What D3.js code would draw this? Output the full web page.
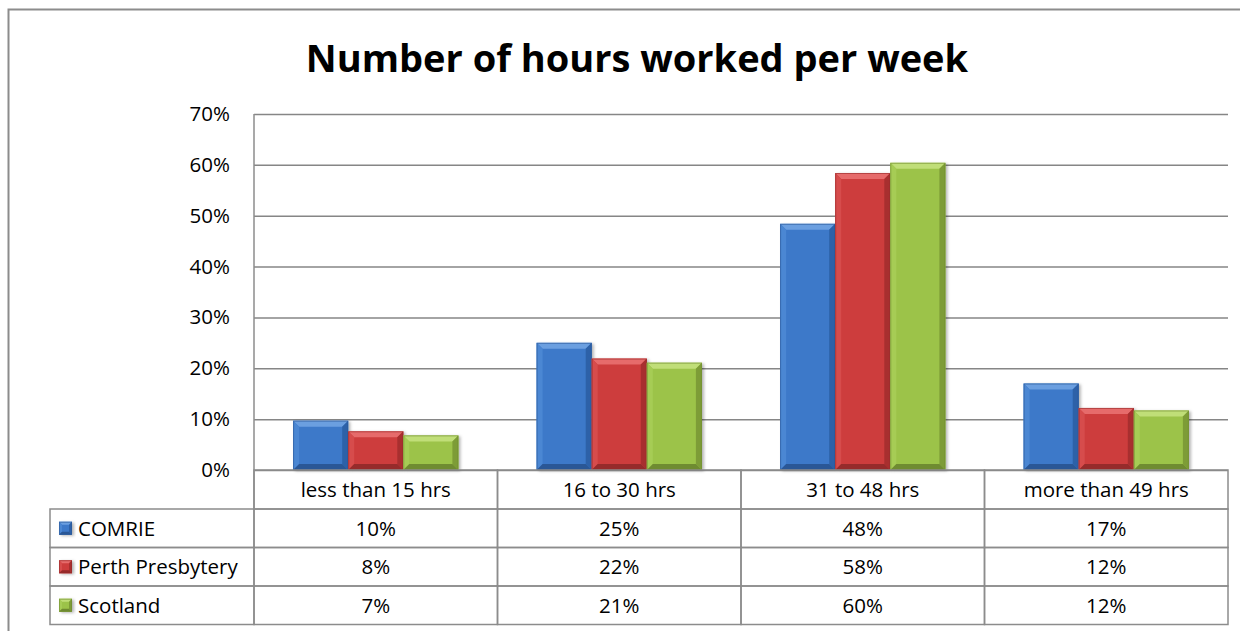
<!DOCTYPE html>
<html>
<head>
<meta charset="utf-8">
<script src="https://cdn.jsdelivr.net/npm/d3@7"></script>
<style>
  body { margin: 0; background: #fff; }
  svg { display: block; font-family: "Open Sans", Lato, sans-serif; }
</style>
</head>
<body>
<div id="chart"></div>
<script>
// data
const categories = ["less than 15 hrs", "16 to 30 hrs", "31 to 48 hrs", "more than 49 hrs"];
const seriesNames = ["COMRIE", "Perth Presbytery", "Scotland"];
const comrie = [0.097, 0.250, 0.484, 0.170];
const perth = [0.076, 0.219, 0.584, 0.122];
const scotland = [0.068, 0.211, 0.604, 0.117];
const yTicks = [0, 0.1, 0.2, 0.3, 0.4, 0.5, 0.6, 0.7];

const seriesValues = [comrie, perth, scotland];
// face, top bevel, left bevel, right bevel, bottom bevel
const palette = [
  ["#3d79c9", "#6b9fe0", "#4b87d3", "#2d61a8", "#2a5796"],
  ["#cd3c3c", "#e66b6b", "#d64c4c", "#a82f2f", "#962b2b"],
  ["#9cc349", "#c0de78", "#a6cc55", "#7d9c37", "#6f8b31"]
];

const width = 1240, height = 631;
const plot = { left: 254, right: 1228, top: 114, bottom: 470 };
const rowH = 38.5, headH = 39, tableLeft = 50;
const fs = 20.5;

const svg = d3.select("#chart").append("svg")
  .attr("width", width)
  .attr("height", height);

// outer chart frame (runs past the window edge)
svg.append("rect")
  .attr("x", 8.5).attr("y", 9.5)
  .attr("width", 1260).attr("height", 700)
  .attr("fill", "#fff")
  .attr("stroke", "#8c8c8c")
  .attr("stroke-width", 2);

svg.append("text")
  .attr("x", 637).attr("y", 72)
  .attr("text-anchor", "middle")
  .attr("font-size", 38)
  .attr("font-weight", "bold")
  .attr("fill", "#000")
  .text("Number of hours worked per week");

const y = d3.scaleLinear().domain([0, 0.7]).range([plot.bottom, plot.top]);
const x0 = d3.scaleBand().domain(categories).range([plot.left, plot.right]);
const x1 = d3.scaleBand().domain(seriesNames).range([0, x0.bandwidth()])
  .paddingInner(0).paddingOuter(0.71);

// gridlines + tick labels
const yAxis = svg.append("g")
  .attr("transform", `translate(${plot.left},0)`)
  .call(d3.axisLeft(y).tickValues(yTicks).tickFormat(d3.format(".0%"))
    .tickSize(-(plot.right - plot.left)).tickPadding(24));
yAxis.select(".domain").remove();
yAxis.selectAll("line").attr("stroke", "#868686").attr("stroke-width", 1.5);
yAxis.selectAll("text").attr("font-size", fs).attr("fill", "#000")
  .attr("font-family", "'Open Sans', sans-serif");

// defs: soft shadow for bars
const defs = svg.append("defs");
const f = defs.append("filter").attr("id", "shadow")
  .attr("x", "-20%").attr("y", "-20%").attr("width", "150%").attr("height", "150%");
f.append("feDropShadow").attr("dx", 2).attr("dy", 1).attr("stdDeviation", 1.5)
  .attr("flood-color", "#000").attr("flood-opacity", 0.3);

function bevelBar(g, x, yy, w, h, cols, b) {
  b = Math.min(b, h / 2, w / 2);
  const grp = g.append("g");
  grp.append("rect").attr("x", x).attr("y", yy).attr("width", w).attr("height", h)
    .attr("fill", cols[0]).attr("filter", "url(#shadow)");
  const pts = [
    [[x, yy], [x + w, yy], [x + w - b, yy + b], [x + b, yy + b]],
    [[x, yy], [x + b, yy + b], [x + b, yy + h - b], [x, yy + h]],
    [[x + w, yy], [x + w - b, yy + b], [x + w - b, yy + h - b], [x + w, yy + h]],
    [[x, yy + h], [x + b, yy + h - b], [x + w - b, yy + h - b], [x + w, yy + h]]
  ];
  pts.forEach((p, i) => {
    grp.append("polygon").attr("points", p.map(d => d.join(",")).join(" "))
      .attr("fill", cols[i + 1]);
  });
  grp.append("rect").attr("x", x + 0.5).attr("y", yy + 0.5)
    .attr("width", w - 1).attr("height", h - 1)
    .attr("fill", "none").attr("stroke", cols[4]).attr("stroke-opacity", 0.6);
}

// bars
const barsG = svg.append("g");
categories.forEach((c, ci) => {
  seriesNames.forEach((s, si) => {
    const v = seriesValues[si][ci];
    const bx = x0(c) + x1(s);
    bevelBar(barsG, bx, y(v), x1.bandwidth(), y(0) - y(v), palette[si], 6);
  });
});

// data table
const fmt = d3.format(".0%");
const tg = svg.append("g");
const lineC = "#8c8c8c", lineW = 1.5;

// header cells
categories.forEach(c => {
  tg.append("rect").attr("x", x0(c)).attr("y", plot.bottom)
    .attr("width", x0.bandwidth()).attr("height", headH)
    .attr("fill", "none").attr("stroke", lineC).attr("stroke-width", lineW);
  tg.append("text").attr("x", x0(c) + x0.bandwidth() / 2)
    .attr("y", plot.bottom + headH / 2).attr("dy", "0.36em")
    .attr("text-anchor", "middle").attr("font-size", fs).text(c);
});

seriesNames.forEach((s, si) => {
  const ry = plot.bottom + headH + rowH * si;
  tg.append("rect").attr("x", tableLeft).attr("y", ry)
    .attr("width", plot.left - tableLeft).attr("height", rowH)
    .attr("fill", "none").attr("stroke", lineC).attr("stroke-width", lineW);
  bevelBar(tg, 59, ry + rowH / 2 - 6.5, 13, 13, palette[si], 3);
  tg.append("text").attr("x", 78).attr("y", ry + rowH / 2).attr("dy", "0.36em")
    .attr("font-size", fs).text(s);
  categories.forEach((c, ci) => {
    tg.append("rect").attr("x", x0(c)).attr("y", ry)
      .attr("width", x0.bandwidth()).attr("height", rowH)
      .attr("fill", "none").attr("stroke", lineC).attr("stroke-width", lineW);
    tg.append("text").attr("x", x0(c) + x0.bandwidth() / 2)
      .attr("y", ry + rowH / 2).attr("dy", "0.36em")
      .attr("text-anchor", "middle").attr("font-size", fs)
      .text(fmt(seriesValues[si][ci]));
  });
});

// vertical axis line
svg.append("line").attr("x1", plot.left).attr("x2", plot.left)
  .attr("y1", plot.top).attr("y2", plot.bottom + headH)
  .attr("stroke", lineC).attr("stroke-width", lineW);
</script>
</body>
</html>
